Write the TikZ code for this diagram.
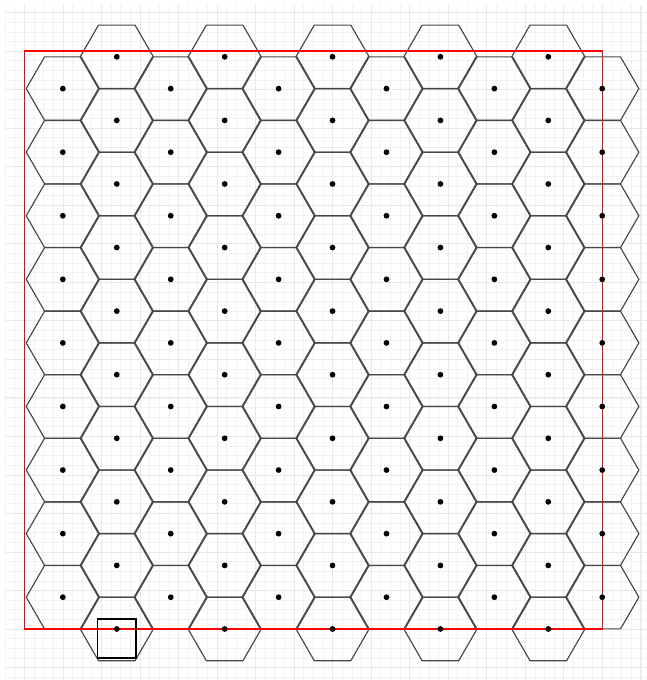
\documentclass[tikz,border=0pt]{standalone}
\begin{document}
\begin{tikzpicture}[
    hexline/.style={draw=black!72, line width=0.85pt},
    cellbox/.style={draw=black, line width=1.4pt},
    regionbox/.style={draw=red, line width=1.1pt}]
  \useasboundingbox (-0.631,-1.324) rectangle (16.161,16.325);
  \draw[black!5, line width=0.4pt, step=0.25] (-0.5,-1.324) grid (16.161,16.19);
  \draw[black!9, line width=0.5pt, step=1] (-0.5,-1.324) grid (16.161,16.19);
  \foreach \k in {1,3,...,9}
    \foreach \j in {0,...,9}
      \draw[hexline] (1+1.4*\k,1.65*\j) ++(0:0.95) -- ++(120:0.95) -- ++(180:0.95)
        -- ++(240:0.95) -- ++(300:0.95) -- ++(0:0.95) -- cycle;
  \foreach \k in {0,2,...,10}
    \foreach \j in {0,...,8}
      \draw[hexline] (1+1.4*\k,0.825+1.65*\j) ++(0:0.95) -- ++(120:0.95) -- ++(180:0.95)
        -- ++(240:0.95) -- ++(300:0.95) -- ++(0:0.95) -- cycle;
  \draw[regionbox] (0,0) rectangle (15,15);
  \draw[cellbox] (1.9,-0.75) rectangle (2.9,0.25);
  \foreach \k in {1,3,...,9}
    \foreach \j in {0,...,9}
      \fill (1+1.4*\k,1.65*\j) circle (0.075);
  \foreach \k in {0,2,...,10}
    \foreach \j in {0,...,8}
      \fill (1+1.4*\k,0.825+1.65*\j) circle (0.075);
\end{tikzpicture}
\end{document}
